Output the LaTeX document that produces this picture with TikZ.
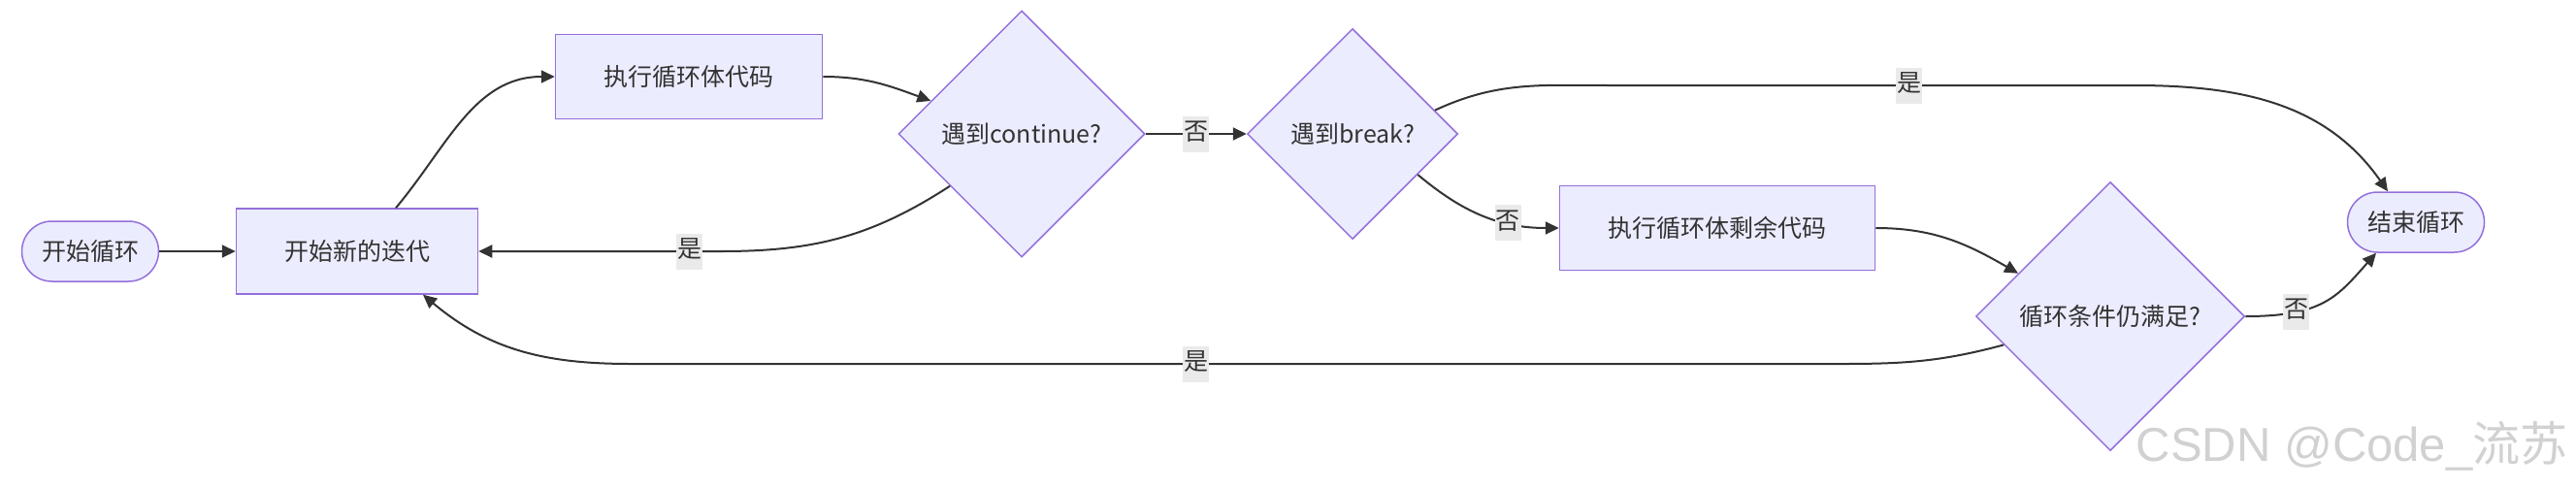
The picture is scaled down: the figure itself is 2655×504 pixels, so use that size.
\documentclass[tikz,border=0pt]{standalone}
\usepackage{fontspec}
\setmainfont{Noto Sans CJK SC}
\newfontfamily\markfont{Liberation Sans}
\usetikzlibrary{shapes.geometric,arrows.meta}
\definecolor{boxfill}{HTML}{ECECFF}
\definecolor{boxline}{HTML}{9370DB}
\definecolor{edgeline}{HTML}{333333}
\definecolor{lblfill}{HTML}{EAEAEA}
\begin{document}
\begin{tikzpicture}[x=1pt,y=1pt,
    box/.style={draw=boxline, fill=boxfill, line width=1.5pt, text=edgeline, minimum height=87pt, font=\fontsize{25}{30}\selectfont},
    term/.style={box, rounded corners=31pt, minimum width=141pt, minimum height=62pt},
    choice/.style={box, diamond, shape aspect=1, inner sep=0pt},
    flow/.style={draw=edgeline, line width=2pt, -{Triangle[length=14pt,width=13pt]}},
    lbl/.style={fill=lblfill, text=edgeline, inner xsep=1pt, inner ysep=6pt, text height=19pt, text depth=6pt, font=\fontsize{25}{30}\selectfont}]
    \useasboundingbox (0,0) rectangle (2655,-504);

    %nodes
    \node[term] (start) at (93,-259) {开始循环};
    \node[box, minimum width=249pt, minimum height=88pt] (iter) at (368,-259) {开始新的迭代};
    \node[box, minimum width=275pt] (body) at (710,-79) {执行循环体代码};
    \node[choice, minimum size=254pt] (cont) at (1053,-138) {遇到continue?};
    \node[choice, minimum size=217pt] (brk) at (1394,-138) {遇到break?};
    \node[box, minimum width=325pt] (rest) at (1770,-235) {执行循环体剩余代码};
    \node[choice, minimum size=277pt] (cond) at (2175,-326) {循环条件仍满足?};
    \node[term] (stop) at (2490,-229) {结束循环};

    %edges
    \draw[flow] (start) -- (iter);
    \draw[flow] ([xshift=40pt]iter.north) to[out=50,in=180] (body.west);
    \draw[flow] (body.east) to[out=0,in=160] (cont.160);
    \draw[flow] (cont.216) to[out=213,in=0] ([xshift=250pt]iter.east) -- node[lbl,pos=0.13] {是} (iter.east);
    \draw[flow] (cont.east) -- node[lbl] {否} (brk.west);
    \draw[flow] (brk.16) to[out=25,in=180] (1660,-88) -- node[lbl,pos=0.57] {是} (2200,-88) to[out=0,in=125] ([xshift=-29pt]stop.north);
    \draw[flow] (brk.328) to[out=-40,in=180] node[lbl,pos=0.68] {否} (rest.west);
    \draw[flow] (rest.east) to[out=0,in=150] (cond.155);
    \draw[flow] (cond.east) .. controls +(80,0) and +(-40,-45) .. node[lbl,pos=0.27] {否} ([xshift=-41pt]stop.south);
    \draw[flow] (cond.195) to[out=195,in=0] (1900,-375) -- node[lbl,pos=0.534] {是} (650,-375) to[out=180,in=-40] ([xshift=68pt]iter.south);

    %watermark
    \node[anchor=base east, text=black!18, font=\fontsize{49}{58}\markfont] (mark) at (2650,-475) {CSDN @Code\_{\rmfamily 流苏}};
\end{tikzpicture}
\end{document}
